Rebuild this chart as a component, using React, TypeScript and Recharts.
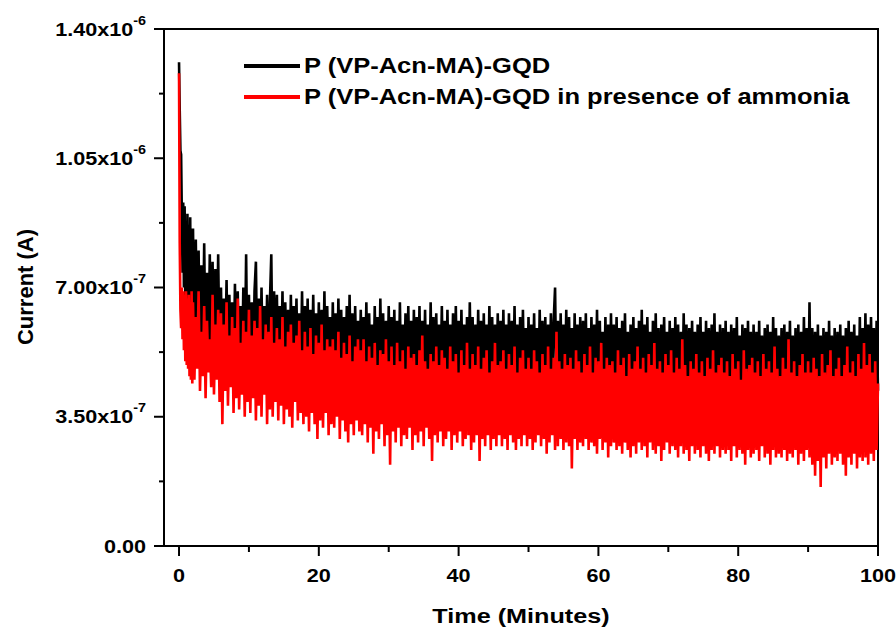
import React from 'react';
import { LineChart, Line, XAxis, YAxis, ReferenceArea } from 'recharts';

// current in units of 1e-7 A
// first two minutes (spike and fast decay), one sample every 0.1 min
const earlyTime = [0, 0.1, 0.2, 0.3, 0.4, 0.5, 0.6, 0.7, 0.8, 0.9, 1.0, 1.1, 1.2, 1.3, 1.4, 1.5, 1.6, 1.7, 1.8, 1.9];
const earlyBlack = [13.1, 11.8, 10.7, 10.6, 9.0, 7.4, 9.3, 7.0, 9.2, 6.8, 8.8, 6.6, 9.0, 6.5, 8.7, 6.4, 8.9, 6.2, 8.6, 6.0];
const earlyRed = [12.8, 8.2, 6.4, 5.9, 7.0, 5.6, 6.9, 5.3, 6.8, 5.0, 6.9, 4.9, 6.7, 4.8, 6.8, 4.6, 6.6, 4.5, 6.9, 4.4];

// from 2 min on the trace is sampled every 0.2 min (one row = 4 min)
const mainStart = 2;
const mainStep = 0.2;

const blackCurrent = [
    8.6, 5.0, 8.3, 5.2, 8.0, 4.8, 7.6, 5.1, 8.2, 4.9, 7.4, 5.0, 7.9, 4.7, 7.7, 5.1, 7.5, 4.8, 7.9, 4.9,
    7.0, 4.6, 6.7, 4.9, 7.2, 4.5, 6.8, 4.8, 6.6, 4.7, 7.1, 4.5, 6.9, 4.8, 6.5, 4.6, 7.0, 4.7, 7.9, 4.5,
    6.8, 4.6, 6.6, 4.4, 6.9, 7.7, 4.6, 6.7, 4.5, 7.0, 4.7, 6.5, 4.4, 6.8, 4.6, 6.6, 7.9, 4.5, 6.9, 4.6,
    6.8, 4.5, 6.5, 4.7, 6.9, 4.4, 6.6, 4.6, 6.4, 4.5, 6.8, 4.3, 6.5, 4.6, 6.7, 4.4, 6.3, 4.5, 6.9, 4.4,
    6.5, 4.4, 6.7, 4.3, 6.4, 4.6, 6.8, 4.3, 6.3, 4.5, 6.6, 4.2, 6.4, 4.5, 6.9, 4.3, 6.5, 4.4, 6.2, 4.3,
    6.6, 4.3, 6.3, 4.5, 6.7, 4.2, 6.4, 4.4, 6.2, 4.3, 6.5, 4.1, 6.8, 4.4, 6.3, 4.2, 6.5, 4.3, 6.1, 4.4,
    6.4, 4.2, 6.2, 4.4, 6.6, 4.1, 6.3, 4.3, 6.0, 4.2, 6.5, 4.4, 6.2, 4.1, 6.7, 4.3, 6.3, 4.2, 6.1, 4.0,
    6.5, 4.1, 6.2, 4.3, 6.4, 4.0, 6.1, 4.2, 6.6, 4.1, 6.0, 4.3, 6.3, 4.0, 6.5, 4.2, 6.1, 4.1, 6.4, 4.0,
    6.2, 4.2, 6.5, 4.0, 6.1, 4.3, 6.4, 4.1, 6.0, 4.2, 6.6, 4.0, 6.2, 4.3, 6.3, 4.1, 6.0, 4.2, 6.5, 4.0,
    6.1, 4.1, 6.4, 4.2, 6.0, 4.0, 6.3, 4.2, 6.5, 4.1, 6.1, 3.9, 6.4, 4.2, 6.0, 4.1, 6.2, 4.0, 6.6, 4.1,
    6.2, 4.0, 6.0, 4.2, 6.4, 3.9, 6.1, 4.1, 6.3, 4.0, 6.0, 4.2, 6.5, 3.9, 6.2, 4.1, 6.0, 4.0, 6.3, 4.1,
    6.1, 3.9, 6.4, 4.1, 6.0, 4.0, 6.3, 3.9, 6.1, 4.2, 6.5, 4.0, 6.0, 3.9, 6.2, 4.1, 6.4, 4.0, 5.9, 3.9,
    6.2, 4.0, 6.0, 4.1, 6.3, 3.9, 5.9, 4.0, 6.4, 4.1, 6.1, 3.9, 6.2, 4.0, 6.0, 4.1, 6.3, 3.9, 6.1, 7.0,
    4.0, 6.1, 3.9, 6.3, 4.0, 6.0, 4.1, 6.4, 3.9, 6.2, 4.0, 5.9, 3.9, 6.3, 4.1, 6.0, 3.8, 6.2, 4.0, 6.1,
    3.9, 6.3, 4.0, 5.9, 3.8, 6.2, 4.0, 6.0, 3.9, 6.4, 3.8, 6.1, 4.0, 5.8, 3.9, 6.2, 3.8, 6.0, 4.0, 6.3,
    3.8, 6.0, 3.9, 6.2, 3.8, 5.9, 4.0, 6.1, 3.7, 6.3, 3.9, 5.8, 3.8, 6.0, 3.9, 6.2, 3.7, 5.9, 3.9, 6.1,
    3.8, 6.4, 3.7, 6.0, 3.9, 6.2, 3.8, 5.8, 3.7, 6.1, 3.9, 6.3, 3.8, 5.9, 3.7, 6.0, 3.9, 6.2, 3.8, 5.8,
    3.7, 6.1, 3.8, 5.9, 3.6, 6.2, 3.8, 6.0, 3.7, 5.8, 3.9, 6.3, 3.7, 6.0, 3.8, 5.9, 3.6, 6.1, 3.8, 5.8,
    3.7, 6.0, 3.6, 6.2, 3.8, 5.8, 3.7, 6.1, 3.6, 5.9, 3.8, 6.0, 3.7, 6.3, 3.6, 5.8, 3.8, 6.0, 3.7, 5.9,
    3.6, 6.1, 3.7, 5.8, 3.6, 6.0, 3.8, 5.9, 3.6, 6.2, 3.7, 5.7, 3.6, 6.0, 3.8, 5.9, 3.6, 6.1, 3.7, 5.8,
    3.6, 6.0, 3.5, 5.8, 3.7, 6.1, 3.6, 5.7, 3.5, 5.9, 3.7, 6.0, 3.6, 5.8, 3.5, 6.2, 3.7, 5.9, 3.6, 5.7,
    3.5, 5.9, 3.7, 6.0, 3.6, 5.8, 3.5, 6.1, 3.7, 5.7, 3.6, 5.9, 3.5, 6.0, 3.7, 5.8, 3.6, 6.2, 3.5, 5.9,
    3.6, 6.6, 3.5, 5.9, 3.7, 5.8, 3.6, 6.0, 3.5, 5.7, 3.6, 5.9, 3.7, 5.8, 3.5, 6.1, 3.6, 5.7, 3.5, 5.9,
    3.6, 5.8, 3.5, 6.0, 3.7, 5.7, 3.5, 5.9, 3.6, 6.1, 3.5, 5.8, 3.7, 6.0, 3.5, 5.7, 3.6, 6.2, 3.5, 5.9,
    3.6, 6.3, 3.5, 6.0, 3.7, 6.2, 3.6, 5.9, 3.5, 6.1, 4.2,
];

const redCurrent = [
    6.6, 4.5, 6.2, 4.8, 6.9, 4.2, 5.8, 4.6, 6.5, 4.0, 6.1, 4.7, 5.6, 4.3, 6.8, 4.1, 6.0, 4.5, 6.4, 3.9,
    6.3, 3.3, 6.0, 4.2, 6.6, 3.8, 5.7, 4.3, 6.2, 3.6, 5.9, 4.0, 6.7, 3.7, 5.5, 4.1, 6.1, 3.5, 5.8, 3.9,
    6.4, 3.6, 5.7, 4.0, 6.1, 3.4, 5.9, 3.8, 6.5, 3.5, 5.6, 4.1, 6.0, 3.3, 5.8, 3.7, 6.2, 3.5, 5.5, 3.9,
    5.9, 3.4, 5.6, 3.8, 6.2, 3.3, 5.4, 3.7, 5.8, 3.5, 6.0, 3.2, 5.5, 3.9, 5.7, 3.4, 6.1, 3.6, 5.3, 3.3,
    5.8, 3.5, 5.4, 3.1, 5.9, 3.6, 5.2, 3.3, 5.7, 2.9, 5.5, 3.4, 6.0, 3.2, 5.3, 3.6, 5.6, 3.0, 5.4, 3.3,
    5.6, 3.2, 5.3, 3.5, 5.8, 2.9, 5.1, 3.4, 5.5, 3.1, 5.2, 2.8, 5.7, 3.3, 5.0, 3.0, 5.4, 3.4, 5.6, 3.1,
    5.3, 3.0, 5.6, 3.3, 5.0, 2.8, 5.4, 3.2, 5.1, 2.5, 5.5, 3.1, 4.9, 2.9, 5.3, 3.3, 5.2, 2.7, 5.6, 3.0,
    5.0, 2.2, 5.4, 3.1, 4.9, 2.8, 5.5, 3.2, 5.0, 2.7, 5.3, 3.0, 4.8, 2.9, 5.4, 3.2, 5.1, 2.6, 5.2, 3.0,
    4.9, 2.8, 5.3, 3.1, 5.7, 2.7, 5.0, 3.2, 4.8, 2.9, 5.2, 2.3, 5.0, 3.0, 5.4, 2.8, 4.9, 3.1, 5.3, 2.7,
    5.1, 2.9, 4.8, 3.1, 5.4, 2.6, 5.0, 3.0, 5.2, 2.8, 4.7, 3.1, 5.3, 2.7, 4.9, 2.9, 5.5, 3.0, 4.8, 2.6,
    5.2, 2.8, 4.9, 3.0, 5.4, 2.3, 4.8, 2.9, 5.1, 2.7, 5.3, 3.0, 4.7, 2.6, 5.0, 2.9, 5.5, 2.7, 4.9, 3.0,
    5.0, 2.7, 5.3, 2.9, 4.8, 2.6, 5.2, 3.0, 4.9, 2.8, 5.4, 2.6, 4.7, 2.9, 5.1, 2.7, 5.3, 3.0, 4.8, 2.7,
    5.1, 2.9, 4.8, 2.6, 5.3, 2.8, 5.0, 3.0, 4.7, 2.7, 5.2, 2.9, 4.9, 2.5, 5.4, 2.8, 4.8, 3.0, 5.1, 2.6,
    5.8, 2.7, 5.0, 2.9, 4.8, 2.6, 5.2, 2.8, 4.9, 2.7, 5.1, 2.1, 4.8, 2.9, 5.3, 2.6, 5.0, 2.8, 4.7, 2.7,
    5.2, 2.9, 4.9, 2.6, 5.4, 2.8, 4.7, 2.7, 5.1, 2.5, 5.0, 2.9, 5.5, 2.6, 4.8, 2.8, 5.1, 2.4, 4.9, 2.7,
    5.0, 2.8, 4.7, 2.6, 5.3, 2.7, 4.9, 2.5, 5.1, 2.8, 4.6, 2.6, 5.2, 2.4, 4.8, 2.7, 5.0, 2.5, 5.4, 2.8,
    4.8, 2.6, 5.1, 2.7, 4.7, 2.4, 5.2, 2.8, 4.9, 2.6, 5.5, 2.5, 4.8, 2.7, 5.0, 2.3, 4.7, 2.6, 5.2, 2.8,
    4.9, 2.5, 5.3, 2.7, 4.7, 2.6, 5.1, 2.4, 4.8, 2.7, 5.6, 2.5, 4.9, 2.6, 4.6, 2.3, 5.0, 2.7, 4.8, 2.5,
    5.2, 2.6, 4.7, 2.4, 5.0, 2.7, 4.6, 2.5, 5.1, 2.3, 4.8, 2.6, 5.3, 2.5, 4.7, 2.7, 4.9, 2.4, 5.1, 2.6,
    4.7, 2.5, 5.0, 2.6, 4.6, 2.3, 5.2, 2.7, 4.8, 2.4, 5.0, 2.6, 4.5, 2.5, 5.3, 2.2, 4.8, 2.6, 4.9, 2.4,
    5.1, 2.5, 4.7, 2.6, 5.0, 2.3, 4.6, 2.7, 5.2, 2.4, 4.8, 2.5, 5.0, 2.2, 4.7, 2.6, 5.4, 2.4, 4.8, 2.5,
    4.6, 2.4, 5.1, 2.6, 4.8, 2.3, 5.6, 2.5, 4.7, 2.4, 5.0, 2.6, 4.6, 2.2, 4.9, 2.5, 5.2, 2.3, 4.7, 2.6,
    5.0, 2.4, 4.7, 2.2, 5.1, 1.9, 4.8, 2.3, 4.6, 1.6, 5.2, 2.4, 4.7, 2.1, 4.9, 2.5, 5.3, 2.2, 4.6, 2.4,
    4.8, 2.3, 5.1, 2.5, 4.6, 2.2, 4.9, 1.9, 5.4, 2.4, 4.7, 2.2, 5.0, 2.5, 4.6, 2.1, 5.2, 2.4, 4.8, 2.3,
    5.5, 2.4, 4.9, 2.2, 5.2, 2.5, 4.7, 2.3, 5.0, 2.6, 4.4,
];

const seriesNames = ['P (VP-Acn-MA)-GQD', 'P (VP-Acn-MA)-GQD in presence of ammonia'];
const seriesColors = ['#000000', '#ff0000'];

const xTicks = [0, 10, 20, 30, 40, 50, 60, 70, 80, 90, 100];
const xMajor = [0, 20, 40, 60, 80, 100];
const yTicks = [0, 1.75e-7, 3.5e-7, 5.25e-7, 7e-7, 8.75e-7, 1.05e-6, 1.225e-6, 1.4e-6];
const yMajor = [0, 3.5e-7, 7e-7, 1.05e-6, 1.4e-6];
const yMantissa = ['0.00', '3.50x10', '7.00x10', '1.05x10', '1.40x10'];
const yExponent = ['', '-7', '-7', '-6', '-6'];

const unit = 1e-7;

const data = [
    ...earlyTime.map((t, i) => ({ time: t, black: earlyBlack[i] * unit, red: earlyRed[i] * unit })),
    ...blackCurrent.map((v, i) => ({
        time: +(mainStart + i * mainStep).toFixed(1),
        black: v * unit,
        red: redCurrent[i] * unit,
    })),
];

const FONT = '"Liberation Sans", Arial, sans-serif';
const STRETCH = 1.2;

function XTick(props: any) {
    const { x, y, payload } = props;
    const major = xMajor.includes(payload.value);
    return (
        <g>
            <line x1={x} x2={x} y1={y} y2={y + (major ? 10 : 6)} stroke="#000" strokeWidth={2} />
            {major && (
                <text
                    transform={`translate(${x},${y + 36}) scale(${STRETCH},1)`}
                    textAnchor="middle"
                    fontFamily={FONT}
                    fontWeight="bold"
                    fontSize={18}
                    fill="#000"
                >
                    {payload.value}
                </text>
            )}
        </g>
    );
}

function YTick(props: any) {
    const { x, y, payload } = props;
    const idx = yMajor.findIndex((v) => Math.abs(v - payload.value) < 1e-12);
    const major = idx >= 0;
    return (
        <g>
            <line x1={x - (major ? 10 : 5)} x2={x} y1={y} y2={y} stroke="#000" strokeWidth={2} />
            {major && (
                <text
                    transform={`translate(${x - 18},${y + 6.5}) scale(${STRETCH},1)`}
                    textAnchor="end"
                    fontFamily={FONT}
                    fontWeight="bold"
                    fontSize={18}
                    fill="#000"
                >
                    <tspan>{yMantissa[idx]}</tspan>
                    {yExponent[idx] && (
                        <tspan dy={-11} fontSize={12}>
                            {yExponent[idx]}
                        </tspan>
                    )}
                </text>
            )}
        </g>
    );
}

function ChartLegend() {
    return (
        <div style={{ position: 'absolute', left: 244, top: 50, fontFamily: FONT }}>
            {seriesNames.map((name, i) => (
                <div key={name} style={{ display: 'flex', alignItems: 'center', height: 31 }}>
                    <svg width={60} height={6} style={{ flex: 'none' }}>
                        <line x1={0} x2={56} y1={3} y2={3} stroke={seriesColors[i]} strokeWidth={4} />
                    </svg>
                    <span
                        style={{
                            display: 'inline-block',
                            fontSize: 22,
                            fontWeight: 'bold',
                            color: '#000',
                            whiteSpace: 'nowrap',
                            transform: 'scaleX(1.16)',
                            transformOrigin: 'left center',
                            lineHeight: '31px',
                        }}
                    >
                        {name}
                    </span>
                </div>
            ))}
        </div>
    );
}

export default function App() {
    return (
        <div style={{ position: 'absolute', left: 0, top: 0, width: 896, height: 630, background: '#fff' }}>
            <LineChart width={896} height={630} data={data} margin={{ top: 29, right: 18, left: 0, bottom: 0 }}>
                <XAxis
                    dataKey="time"
                    type="number"
                    domain={[-2.15, 100]}
                    ticks={xTicks}
                    interval={0}
                    height={84}
                    tickSize={0}
                    tickMargin={0}
                    tickLine={false}
                    axisLine={{ stroke: '#000', strokeWidth: 2 }}
                    tick={<XTick />}
                    label={() => (
                        <text
                            transform={`translate(521,623) scale(${STRETCH},1)`}
                            textAnchor="middle"
                            fontFamily={FONT}
                            fontWeight="bold"
                            fontSize={21}
                            fill="#000"
                        >
                            Time (Minutes)
                        </text>
                    )}
                />
                <YAxis
                    type="number"
                    domain={[0, 1.4e-6]}
                    ticks={yTicks}
                    interval={0}
                    width={164}
                    tickSize={0}
                    tickMargin={0}
                    tickLine={false}
                    axisLine={{ stroke: '#000', strokeWidth: 2 }}
                    tick={<YTick />}
                    label={() => (
                        <text
                            transform={`translate(33,287) rotate(-90)`}
                            textAnchor="middle"
                            fontFamily={FONT}
                            fontWeight="bold"
                            fontSize={22}
                            fill="#000"
                        >
                            Current (A)
                        </text>
                    )}
                />
                <ReferenceArea
                    x1={-2.15}
                    x2={100}
                    y1={0}
                    y2={1.4e-6}
                    fill="none"
                    stroke="#000"
                    strokeWidth={2}
                    ifOverflow="visible"
                />
                <Line
                    dataKey="black"
                    name={seriesNames[0]}
                    stroke={seriesColors[0]}
                    strokeWidth={2.6}
                    dot={false}
                    type="linear"
                    isAnimationActive={false}
                />
                <Line
                    dataKey="red"
                    name={seriesNames[1]}
                    stroke={seriesColors[1]}
                    strokeWidth={2.6}
                    dot={false}
                    type="linear"
                    isAnimationActive={false}
                />
            </LineChart>
            <ChartLegend />
        </div>
    );
}
